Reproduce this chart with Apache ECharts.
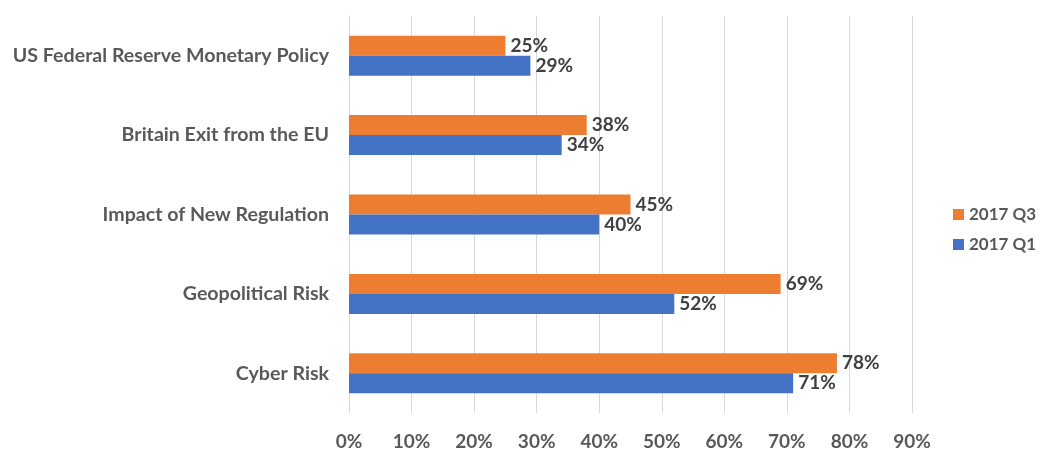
<!DOCTYPE html>
<html>
<head>
<meta charset="utf-8">
<script src="https://cdn.jsdelivr.net/npm/echarts@6/dist/echarts.min.js"></script>
<style>
  html, body { margin: 0; padding: 0; background: #fff; }
  #chart { width: 1050px; height: 451px; }
</style>
</head>
<body>
<div id="chart"></div>
<script>
// Risk concerns, share of respondents (%)
const categories = [
  'US Federal Reserve Monetary Policy',
  'Britain Exit from the EU',
  'Impact of New Regulation',
  'Geopolitical Risk',
  'Cyber Risk'
];
const q3Values = [25, 38, 45, 69, 78];
const q1Values = [29, 34, 40, 52, 71];
const seriesNames = ['2017 Q3', '2017 Q1'];

const FONT = 'Lato, "Open Sans", sans-serif';
const TEXT = '#595959';

const chart = echarts.init(document.getElementById('chart'));
chart.setOption({
  animation: false,
  textStyle: { fontFamily: FONT },
  legend: {
    orient: 'vertical',
    left: 948,
    top: 201,
    itemWidth: 11,
    itemHeight: 11,
    itemGap: 13,
    icon: 'rect',
    textStyle: { fontFamily: FONT, fontSize: 17, fontWeight: 'bold', color: TEXT },
    data: seriesNames
  },
  grid: { left: 349, right: 138, top: 16, bottom: 37, containLabel: false },
  xAxis: {
    type: 'value',
    min: 0,
    max: 90,
    interval: 10,
    axisLine: { show: false },
    axisTick: { show: false },
    splitLine: { lineStyle: { color: '#d9d9d9', width: 1 } },
    axisLabel: {
      formatter: '{value}%',
      fontFamily: FONT, fontSize: 19, fontWeight: 'bold', color: TEXT, margin: 19
    }
  },
  yAxis: {
    type: 'category',
    inverse: true,
    data: categories,
    axisLine: { show: true, lineStyle: { color: '#d9d9d9' } },
    axisTick: { show: false },
    axisLabel: { fontFamily: FONT, fontSize: 19.6, fontWeight: 'bold', color: TEXT, margin: 20 }
  },
  series: [
    {
      name: seriesNames[0],
      type: 'bar',
      data: q3Values,
      barWidth: 20,
      barGap: '0%',
      itemStyle: { color: '#ED7D31' },
      label: {
        show: true, position: 'right', distance: 5, formatter: '{c}%',
        fontFamily: FONT, fontSize: 19, fontWeight: 'bold', color: '#404040'
      }
    },
    {
      name: seriesNames[1],
      type: 'bar',
      data: q1Values,
      barWidth: 20,
      barGap: '0%',
      itemStyle: { color: '#4472C4' },
      label: {
        show: true, position: 'right', distance: 5, formatter: '{c}%',
        fontFamily: FONT, fontSize: 19, fontWeight: 'bold', color: '#404040'
      }
    }
  ]
});
</script>
</body>
</html>
